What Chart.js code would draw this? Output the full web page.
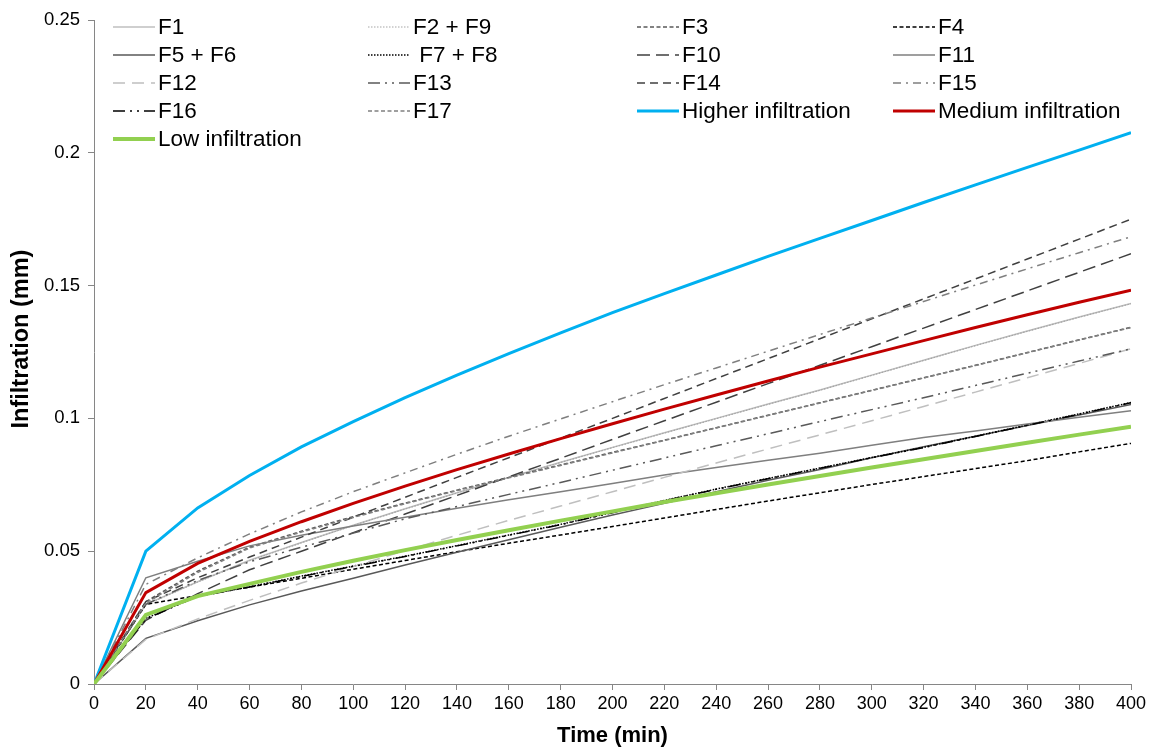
<!DOCTYPE html>
<html>
<head>
<meta charset="utf-8">
<script src="https://cdn.jsdelivr.net/npm/chart.js@4.4.1/dist/chart.umd.min.js"></script>
<style>
  html, body { margin: 0; padding: 0; background: #fff; }
</style>
</head>
<body>
<canvas id="infilChart" width="1153" height="749"></canvas>
<script>
// time steps (min)
var times = [0, 20, 40, 60, 80, 100, 120, 140, 160, 180, 200, 220, 240, 260, 280, 300, 320, 340, 360, 380, 400];

// cumulative infiltration (mm) per plot
var f1     = [0, 0.0300, 0.0385, 0.0466, 0.0533, 0.0598, 0.0660, 0.0720, 0.0778, 0.0835, 0.0891, 0.0946, 0.1000, 0.1054, 0.1107, 0.1163, 0.1219, 0.1275, 0.1329, 0.1382, 0.1433];
var f2f9   = [0, 0.0298, 0.0384, 0.0464, 0.0532, 0.0597, 0.0659, 0.0719, 0.0777, 0.0834, 0.0890, 0.0945, 0.0999, 0.1053, 0.1106, 0.1162, 0.1218, 0.1274, 0.1328, 0.1381, 0.1432];
var f3     = [0, 0.0310, 0.0425, 0.0515, 0.0575, 0.0630, 0.0681, 0.0730, 0.0778, 0.0825, 0.0872, 0.0918, 0.0965, 0.1012, 0.1059, 0.1106, 0.1153, 0.1200, 0.1248, 0.1296, 0.1343];
var f4     = [0, 0.0300, 0.0333, 0.0365, 0.0398, 0.0432, 0.0465, 0.0498, 0.0530, 0.0561, 0.0593, 0.0625, 0.0657, 0.0689, 0.0720, 0.0751, 0.0781, 0.0811, 0.0841, 0.0874, 0.0906];
var f5f6   = [0, 0.0172, 0.0238, 0.0298, 0.0350, 0.0398, 0.0448, 0.0496, 0.0543, 0.0590, 0.0636, 0.0680, 0.0724, 0.0767, 0.0808, 0.0852, 0.0893, 0.0933, 0.0973, 0.1013, 0.1052];
var f7f8   = [0, 0.0247, 0.0331, 0.0366, 0.0406, 0.0444, 0.0481, 0.0521, 0.0561, 0.0601, 0.0646, 0.0691, 0.0734, 0.0774, 0.0813, 0.0853, 0.0891, 0.0933, 0.0975, 0.1017, 0.1060];
var f10    = [0, 0.0240, 0.0340, 0.0430, 0.0500, 0.0570, 0.0640, 0.0710, 0.0780, 0.0850, 0.0921, 0.0991, 0.1061, 0.1131, 0.1200, 0.1270, 0.1340, 0.1410, 0.1480, 0.1550, 0.1620];
var f11    = [0, 0.0400, 0.0462, 0.0520, 0.0560, 0.0595, 0.0628, 0.0662, 0.0694, 0.0724, 0.0755, 0.0787, 0.0815, 0.0842, 0.0869, 0.0899, 0.0928, 0.0953, 0.0979, 0.1004, 0.1029];
var f12    = [0, 0.0168, 0.0245, 0.0315, 0.0380, 0.0442, 0.0502, 0.0560, 0.0616, 0.0670, 0.0724, 0.0778, 0.0832, 0.0885, 0.0938, 0.0991, 0.1045, 0.1099, 0.1153, 0.1207, 0.1262];
var f13    = [0, 0.0300, 0.0390, 0.0460, 0.0515, 0.0568, 0.0622, 0.0668, 0.0714, 0.0759, 0.0805, 0.0851, 0.0897, 0.0942, 0.0988, 0.1033, 0.1078, 0.1124, 0.1170, 0.1216, 0.1262];
var f14    = [0, 0.0310, 0.0400, 0.0478, 0.0553, 0.0628, 0.0703, 0.0778, 0.0852, 0.0926, 0.1000, 0.1075, 0.1150, 0.1225, 0.1300, 0.1375, 0.1450, 0.1525, 0.1600, 0.1675, 0.1750];
var f15    = [0, 0.0375, 0.0475, 0.0565, 0.0648, 0.0724, 0.0795, 0.0865, 0.0933, 0.0998, 0.1063, 0.1127, 0.1190, 0.1253, 0.1316, 0.1378, 0.1440, 0.1502, 0.1563, 0.1624, 0.1684];
var f16    = [0, 0.0245, 0.0330, 0.0365, 0.0405, 0.0443, 0.0480, 0.0520, 0.0560, 0.0600, 0.0645, 0.0690, 0.0733, 0.0773, 0.0812, 0.0852, 0.0890, 0.0932, 0.0974, 0.1016, 0.1059];
var f17    = [0, 0.0305, 0.0420, 0.0512, 0.0572, 0.0627, 0.0679, 0.0728, 0.0776, 0.0823, 0.0870, 0.0917, 0.0964, 0.1011, 0.1058, 0.1105, 0.1152, 0.1199, 0.1247, 0.1295, 0.1342];
var higher = [0, 0.0500, 0.0663, 0.0785, 0.0893, 0.0988, 0.1078, 0.1163, 0.1244, 0.1322, 0.1398, 0.1470, 0.1540, 0.1610, 0.1678, 0.1745, 0.1813, 0.1879, 0.1945, 0.2010, 0.2076];
var medium = [0, 0.0344, 0.0454, 0.0537, 0.0611, 0.0680, 0.0745, 0.0807, 0.0866, 0.0924, 0.0980, 0.1035, 0.1088, 0.1141, 0.1193, 0.1243, 0.1293, 0.1342, 0.1390, 0.1437, 0.1483];
var low    = [0, 0.0260, 0.0331, 0.0377, 0.0422, 0.0464, 0.0504, 0.0542, 0.0579, 0.0615, 0.0650, 0.0685, 0.0718, 0.0751, 0.0783, 0.0815, 0.0846, 0.0877, 0.0908, 0.0939, 0.0969];

var yTicks = [0, 0.05, 0.1, 0.15, 0.2, 0.25];

// label, values, colour, width, dash
var series = [
    ['F1',                   f1,     '#bfbfbf', 1.5, []],
    ['F2 + F9',              f2f9,   '#a6a6a6', 1.2, [1.5, 1.5]],
    ['F3',                   f3,     '#595959', 1.5, [4, 2.5]],
    ['F4',                   f4,     '#000000', 1.5, [4, 2.5]],
    ['F5 + F6',              f5f6,   '#595959', 1.5, []],
    [' F7 + F8',             f7f8,   '#000000', 1.5, [1.5, 1.5]],
    ['F10',                  f10,    '#404040', 1.5, [13, 6]],
    ['F11',                  f11,    '#7f7f7f', 1.5, []],
    ['F12',                  f12,    '#bfbfbf', 1.5, [12, 7]],
    ['F13',                  f13,    '#595959', 1.5, [12, 5, 2, 5, 2, 5]],
    ['F14',                  f14,    '#404040', 1.5, [8, 5]],
    ['F15',                  f15,    '#7f7f7f', 1.5, [8, 5, 2, 5]],
    ['F16',                  f16,    '#000000', 1.5, [12, 5, 2, 5, 2, 5]],
    ['F17',                  f17,    '#808080', 1.5, [4, 2.5]],
    ['Higher infiltration',  higher, '#00b0f0', 3,   []],
    ['Medium infiltration',  medium, '#c00000', 3,   []],
    ['Low infiltration',     low,    '#92d050', 4,   []]
];

var datasets = series.map(function(s, i) {
    return {
        label: s[0],
        data: times.map(function(t, k) { return {x: t, y: s[1][k]}; }),
        borderColor: s[2],
        backgroundColor: s[2],
        borderWidth: s[3],
        borderDash: s[4],
        pointRadius: 0,
        tension: 0,
        fill: false,
        order: series.length - i   // later series drawn on top
    };
});

// four-column legend sitting in the top of the plot
var gridLegend = {
    id: 'gridLegend',
    afterDraw: function(chart) {
        var ctx    = chart.ctx;
        var colX   = [113, 368, 637, 893];
        var rowY   = 27;
        var rowH   = 28;
        var sample = 42;
        ctx.save();
        ctx.font = '22.5px "Liberation Sans", Arial, sans-serif';
        ctx.textBaseline = 'middle';
        chart.data.datasets.forEach(function(ds, i) {
            var x = colX[i % 4];
            var y = rowY + Math.floor(i / 4) * rowH;
            ctx.strokeStyle = ds.borderColor;
            ctx.lineWidth   = ds.borderWidth;
            ctx.setLineDash(ds.borderDash);
            ctx.beginPath();
            ctx.moveTo(x, y);
            ctx.lineTo(x + sample, y);
            ctx.stroke();
            ctx.setLineDash([]);
            ctx.fillStyle = '#000';
            ctx.fillText(ds.label, x + sample + 3, y + 1);
        });
        ctx.restore();
    }
};

// y axis title, set a little above the axis middle
var yTitle = {
    id: 'yTitle',
    afterDraw: function(chart) {
        var ctx = chart.ctx;
        ctx.save();
        ctx.translate(22, 339);
        ctx.rotate(-Math.PI / 2);
        ctx.font = 'bold 23.5px "Liberation Sans", Arial, sans-serif';
        ctx.textAlign = 'center';
        ctx.textBaseline = 'middle';
        ctx.fillStyle = '#000';
        ctx.fillText('Infiltration (mm)', 0, 0);
        ctx.restore();
    }
};

Chart.defaults.font.family = '"Liberation Sans", Arial, sans-serif';
Chart.defaults.color = '#000';

new Chart(document.getElementById('infilChart'), {
    type: 'line',
    data: { datasets: datasets },
    plugins: [gridLegend, yTitle],
    options: {
        responsive: false,
        animation: false,
        events: [],
        layout: { padding: { top: 20, right: 22, bottom: 0, left: 0 } },
        plugins: {
            legend: { display: false },
            tooltip: { enabled: false }
        },
        scales: {
            x: {
                type: 'linear',
                min: 0,
                max: 400,
                ticks: {
                    stepSize: 20,
                    autoSkip: false,
                    maxRotation: 0,
                    padding: 3,
                    font: { size: 18 },
                    callback: function(v) { return String(v); }
                },
                grid: { drawOnChartArea: false, tickLength: 6, color: '#868686' },
                border: { color: '#868686' },
                title: {
                    display: true,
                    text: 'Time (min)',
                    font: { size: 22, weight: 'bold' },
                    padding: 0
                },
                afterFit: function(s) { s.height = 65; }
            },
            y: {
                min: 0,
                max: 0.25,
                afterBuildTicks: function(s) {
                    s.ticks = yTicks.map(function(v) { return {value: v}; });
                },
                ticks: {
                    padding: 8,
                    font: { size: 18.5 },
                    callback: function(v) { return String(+v.toFixed(2)); }
                },
                grid: { drawOnChartArea: false, tickLength: 6, color: '#868686' },
                border: { color: '#868686' },
                title: { display: false },
                afterFit: function(s) { s.width = 94; }
            }
        }
    }
});
</script>
</body>
</html>
